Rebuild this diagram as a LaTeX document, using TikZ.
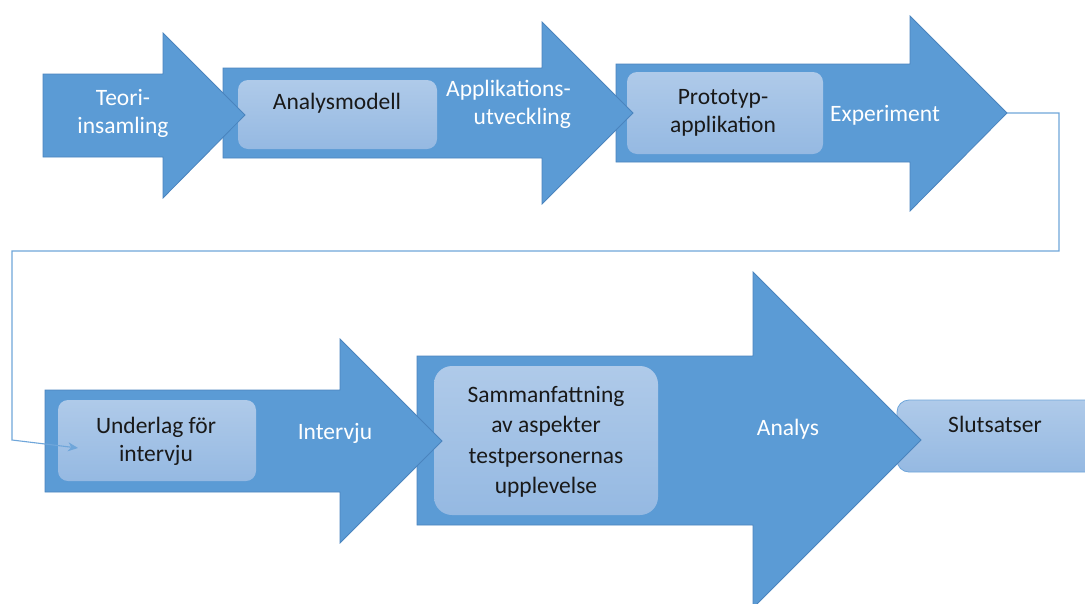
\documentclass[tikz,border=0pt]{standalone}
\usepackage{fontspec}
\setmainfont{Carlito}
\usetikzlibrary{arrows.meta}
\definecolor{arrowfill}{HTML}{5B9BD5}
\definecolor{arrowline}{HTML}{4A84BE}
\definecolor{boxtop}{HTML}{AFCAE9}
\definecolor{boxbot}{HTML}{95B9E2}
\definecolor{connline}{HTML}{6FA6DA}
\tikzset{
  bigarrow/.style={fill=arrowfill, draw=arrowline, line width=0.8pt, line join=miter},
  innerbox/.style={rounded corners=10pt, top color=boxtop, bottom color=boxbot, draw=none, inner sep=0pt},
  endbox/.style={rounded corners=12pt, top color=boxtop, bottom color=boxbot, draw=connline, line width=0.8pt, inner sep=0pt},
  whitelbl/.style={text=white, font=\fontsize{23.5}{28}\selectfont, align=center, inner sep=0pt},
  blacklbl/.style={text=black!90, font=\fontsize{23.5}{28}\selectfont, align=center, inner sep=0pt},
  conn/.style={draw=connline, line width=1.1pt, -{Stealth[length=10pt,width=9pt]}}
}
\begin{document}
\begin{tikzpicture}[x=1pt,y=-1pt]
\clip (0,0) rectangle (1085,603);
\fill[white] (0,0) rectangle (1085,603);

% ---------- bottom row (drawn right to left) ----------
\node[endbox, minimum width=210pt, minimum height=72pt] (b6) at (1002,436) {};
\path[bigarrow] (417,356) -- (753,356) -- (753,272) -- (921,440) -- (753,608) -- (753,525) -- (417,525) -- cycle;
\coordinate (tip5) at (921,440);
\node[innerbox, rounded corners=18pt, minimum width=224pt, minimum height=149pt] (b5) at (546,440.5) {};
\path[bigarrow] (45,390) -- (340,390) -- (340,339) -- (442,441) -- (340,543) -- (340,492) -- (45,492) -- cycle;
\coordinate (tip4) at (442,441);
\node[innerbox, minimum width=198pt, minimum height=81pt] (b4) at (157,440.5) {};

% ---------- top row (drawn right to left) ----------
\path[bigarrow] (616,64) -- (910,64) -- (910,16) -- (1007,113) -- (910,211) -- (910,162) -- (616,162) -- cycle;
\coordinate (tip3) at (1007,113);
\node[innerbox, minimum width=196pt, minimum height=82pt] (b3) at (725,113) {};
\path[bigarrow] (223,68) -- (542,68) -- (542,22) -- (633,113) -- (542,204) -- (542,158) -- (223,158) -- cycle;
\coordinate (tip2) at (633,113);
\node[innerbox, minimum width=199pt, minimum height=69pt] (b2) at (337.5,114.5) {};
\path[bigarrow] (43,74) -- (163,74) -- (163,33) -- (245,115) -- (163,198) -- (163,157) -- (43,157) -- cycle;
\coordinate (tip1) at (245,115);

% ---------- connector ----------
\coordinate (c1) at (1059,113);
\coordinate (c2) at (1059,251);
\coordinate (c3) at (12,251);
\coordinate (c4) at (12,440);
\coordinate (cend) at (78,448);
\draw[conn] (tip3) -- (c1) -- (c2) -- (c3) -- (c4) -- (cend);

% ---------- labels ----------
\node[whitelbl] (l1) at (123,113.5) {Teori-\\insamling};
\node[blacklbl] (t2) at (337,103) {Analysmodell};
\node[whitelbl, align=right, anchor=east] (l2) at (571,104) {Applikations-\\utveckling};
\node[blacklbl] (t3) at (723,113) {Prototyp-\\applikation};
\node[whitelbl] (l3) at (885,115) {Experiment};
\node[blacklbl] (t4) at (156,441) {Underlag för\\intervju};
\node[whitelbl] (l4) at (335,433) {Intervju};
\node[blacklbl, font=\fontsize{23.5}{30.5}\selectfont] (t5) at (546,442) {Sammanfattning\\av aspekter\\testpersonernas\\upplevelse};
\node[whitelbl] (l5) at (788,429) {Analys};
\node[blacklbl] (t6) at (995,424) {Slutsatser};
\end{tikzpicture}
\end{document}
